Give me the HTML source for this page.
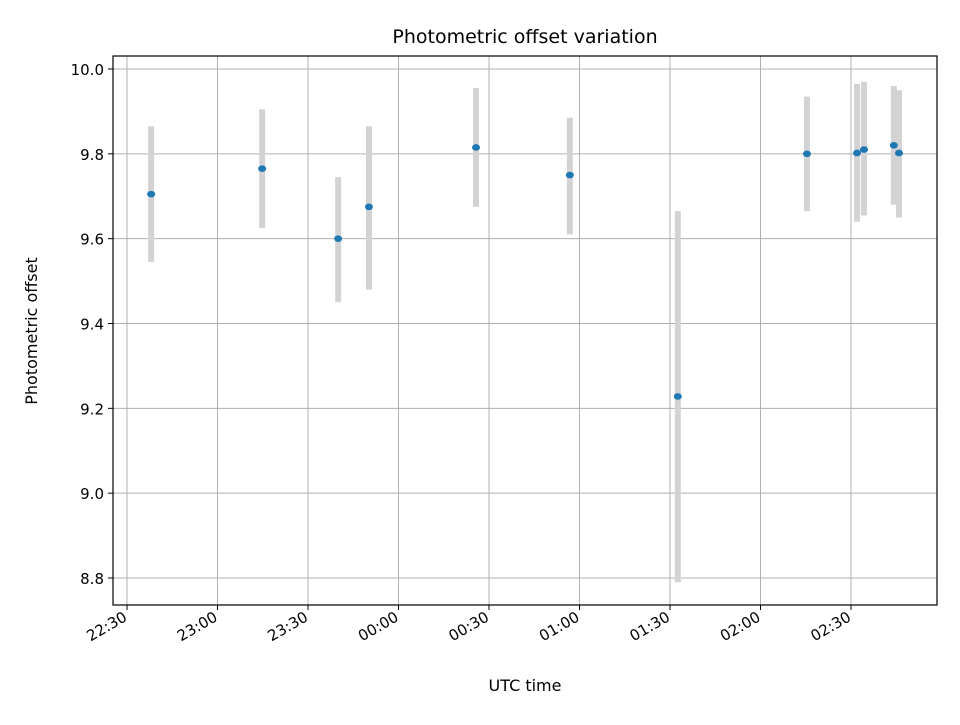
<!DOCTYPE html>
<html><head><meta charset="utf-8"><style>
body{margin:0;background:#fff;font-family:"Liberation Sans","DejaVu Sans",sans-serif}
svg text{font-family:"DejaVu Sans","Liberation Sans",sans-serif;font-size:15px;fill:#000}
</style></head><body>
<svg id="chart" width="960" height="720">
<rect width="960" height="720" fill="#fff"/>
<text x="525" y="43" text-anchor="middle" style="font-size:19px">Photometric offset variation</text>
<text x="525" y="691" text-anchor="middle" style="font-size:16px">UTC time</text>
<text transform="translate(37,331) rotate(-90)" text-anchor="middle" style="font-size:16px">Photometric offset</text>
<g id="grid"></g><g id="marks"></g><g id="axes"></g>
</svg>
<script>
const xTickLabels=["22:30","23:00","23:30","00:00","00:30","01:00","01:30","02:00","02:30"];
const xTickMinutes=[0,30,60,90,120,150,180,210,240];
const yTicks=[8.8,9.0,9.2,9.4,9.6,9.8,10.0];
const minutesAfter2230=[8,44.8,70,80.2,115.7,146.8,182.6,225.4,242,244.3,254.2,255.9];
const offsets=[9.705,9.765,9.6,9.675,9.815,9.75,9.228,9.8,9.802,9.81,9.82,9.802];
const errLow=[9.545,9.625,9.45,9.48,9.675,9.61,8.79,9.665,9.64,9.655,9.68,9.65];
const errHigh=[9.865,9.905,9.745,9.865,9.955,9.885,9.665,9.935,9.965,9.97,9.96,9.95];

const L=113,R=937,T=56,B=605;
const X=m=>127+m*(90.5/30);
const Y=v=>69+(10.0-v)*(509/1.2);
const NS="http://www.w3.org/2000/svg";
function mk(tag,attrs,parent){const e=document.createElementNS(NS,tag);for(const k in attrs)e.setAttribute(k,attrs[k]);parent.appendChild(e);return e;}
const grid=document.getElementById('grid'),marks=document.getElementById('marks'),axes=document.getElementById('axes');

xTickMinutes.forEach((m,i)=>{
  const x=X(m);
  const g=mk('line',{x1:x,x2:x,y1:T,y2:B,stroke:'#b0b0b0','stroke-width':1},grid);
  
  
  const t=mk('line',{x1:x,x2:x,y1:B,y2:B+5,stroke:'#000','stroke-width':1},axes);
  
  
  const lb=mk('text',{'text-anchor':'end',transform:`translate(${x+1},${B+15}) rotate(-30)`},axes);
  lb.textContent=xTickLabels[i];
  
  
});
yTicks.forEach(v=>{
  const y=Y(v);
  const g=mk('line',{x1:L,x2:R,y1:y,y2:y,stroke:'#b0b0b0','stroke-width':1},grid);
  
  
  const t=mk('line',{x1:L-5,x2:L,y1:y,y2:y,stroke:'#000','stroke-width':1},axes);
  
  
  const lb=mk('text',{x:L-9,y:y+6,'text-anchor':'end'},axes);
  lb.textContent=v.toFixed(1);
  
  
});
const frame=mk('rect',{x:L,y:T,width:R-L,height:B-T,fill:'none',stroke:'#000','stroke-width':1.2},axes);



minutesAfter2230.forEach((m,i)=>{
  const x=X(m);
  const e=mk('line',{x1:x,x2:x,y1:Y(errHigh[i]),y2:Y(errLow[i]),stroke:'#d3d3d3','stroke-width':6},marks);
  
  
});
minutesAfter2230.forEach((m,i)=>{
  const p=mk('ellipse',{cx:X(m),cy:Y(offsets[i]),rx:4,ry:3.3,fill:'#1f77b4'},marks);
  
  
});
</script>
</body></html>
